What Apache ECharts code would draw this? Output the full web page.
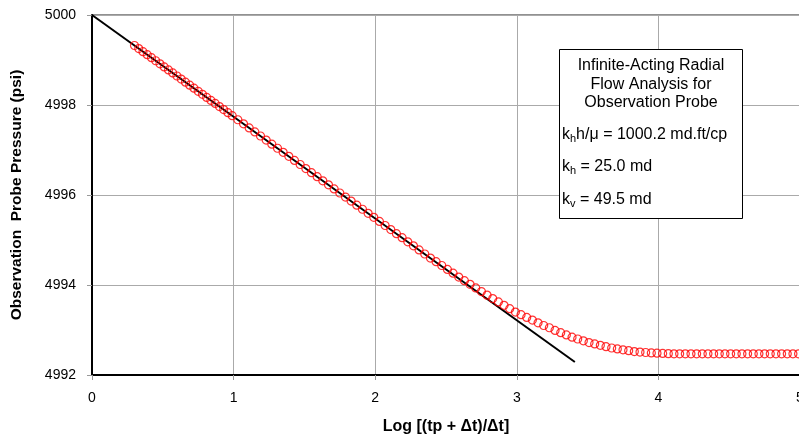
<!DOCTYPE html>
<html><head><meta charset="utf-8">
<script src="https://cdn.jsdelivr.net/npm/echarts@6/dist/echarts.min.js"></script>
<style>html,body{margin:0;padding:0;background:#fff}#c{width:799px;height:439px}</style>
</head><body><div id="c"></div>
<script>
const xTicks = [0, 1, 2, 3, 4, 5];
const yTicks = [4992, 4994, 4996, 4998, 5000];
const probeX = [0.30,0.33,0.36,0.39,0.42,0.45,0.48,0.51,0.54,0.57,0.60,0.63,0.66,0.69,0.72,0.75,0.78,0.81,0.84,0.87,0.90,0.93,0.96,0.99,
1.03,1.07,1.11,1.15,1.19,1.23,1.27,1.31,1.35,1.39,1.43,1.47,1.51,1.55,1.59,1.63,1.67,1.71,1.75,1.79,1.83,1.87,1.91,1.95,1.99,
2.03,2.07,2.11,2.15,2.19,2.23,2.27,2.31,2.35,2.39,2.43,2.47,2.51,2.55,2.59,2.63,2.67,2.71,2.75,2.79,2.83,2.87,2.91,2.95,2.99,
3.03,3.07,3.11,3.15,3.19,3.23,3.27,3.31,3.35,3.39,3.43,3.47,3.51,3.55,3.59,3.63,3.67,3.71,3.75,3.79,3.83,3.87,3.91,3.95,3.99,
4.03,4.07,4.11,4.15,4.19,4.23,4.27,4.31,4.35,4.39,4.43,4.47,4.51,4.55,4.59,4.63,4.67,4.71,4.75,4.79,4.83,4.87,4.91,4.95,4.99];
const probeP = [4999.322,4999.254,4999.186,4999.119,4999.051,4998.983,4998.915,4998.847,4998.780,4998.712,4998.644,4998.576,4998.508,4998.441,4998.373,4998.305,4998.237,4998.169,4998.102,4998.034,4997.966,4997.898,4997.830,4997.763,
4997.672,4997.582,4997.491,4997.401,4997.311,4997.220,4997.130,4997.039,4996.949,4996.859,4996.768,4996.678,4996.587,4996.497,4996.407,4996.316,4996.226,4996.135,4996.045,4995.955,4995.864,4995.774,4995.683,4995.593,4995.503,
4995.412,4995.322,4995.231,4995.141,4995.051,4994.960,4994.870,4994.779,4994.689,4994.599,4994.518,4994.433,4994.347,4994.262,4994.177,4994.096,4994.016,4993.935,4993.855,4993.775,4993.699,4993.624,4993.548,4993.473,4993.398,
4993.34,4993.28,4993.22,4993.16,4993.10,4993.05,4992.99,4992.94,4992.89,4992.84,4992.80,4992.76,4992.72,4992.69,4992.66,4992.63,4992.60,4992.58,4992.56,4992.54,4992.52,4992.51,4992.50,4992.49,4992.485,
4992.48,4992.475,4992.47,4992.47,4992.47,4992.47,4992.47,4992.47,4992.47,4992.47,4992.47,4992.47,4992.47,4992.47,4992.47,4992.47,4992.47,4992.47,4992.47,4992.47,4992.47,4992.47,4992.47,4992.47,4992.47];
const lineX = [0, 3.41];
const lineP = [5000, 4992.29];
const boxTitle = ['Infinite-Acting Radial', 'Flow Analysis for', 'Observation Probe'];

const font = 'Liberation Sans, Arial, sans-serif';
const chart = echarts.init(document.getElementById('c'), null, {renderer: 'canvas'});
const rich = {n: {fontSize: 16, fontFamily: font, lineHeight: 20}, s: {fontSize: 11, fontFamily: font, lineHeight: 20, padding: [7, 0, 0, 0]}};
chart.setOption({
  animation: false,
  backgroundColor: '#fff',
  grid: {left: 92, top: 15, right: -1, bottom: 64, show: true, borderColor: '#222', borderWidth: 1,
         outerBoundsMode: 'none', containLabel: false},
  xAxis: {
    type: 'value', min: xTicks[0], max: xTicks[xTicks.length-1], interval: 1,
    name: 'Log [(tp + Δt)/Δt]', nameLocation: 'middle', nameGap: 44,
    nameTextStyle: {fontFamily: font, fontSize: 16, fontWeight: 'bold', color: '#000'},
    axisLine: {onZero: false, lineStyle: {color: '#000', width: 2}},
    axisTick: {show: true, length: 5, lineStyle: {color: '#999'}},
    axisLabel: {fontFamily: font, fontSize: 14, color: '#000', margin: 16, hideOverlap: false},
    splitLine: {show: true, lineStyle: {color: '#aaa', width: 1}}
  },
  yAxis: {
    type: 'value', min: yTicks[0], max: yTicks[yTicks.length-1], interval: 2,
    name: 'Observation  Probe Pressure (psi)', nameLocation: 'middle', nameGap: 67,
    nameTextStyle: {fontFamily: font, fontSize: 15.5, fontWeight: 'bold', color: '#000'},
    axisLine: {onZero: false, lineStyle: {color: '#000', width: 2}},
    axisTick: {show: true, length: 5, lineStyle: {color: '#999'}},
    axisLabel: {fontFamily: font, fontSize: 14, color: '#000', margin: 16, formatter: v => String(v)},
    splitLine: {show: true, lineStyle: {color: '#aaa', width: 1}}
  },
  series: [
    {type: 'line', data: lineX.map((x, i) => [x, lineP[i]]), symbol: 'none',
     lineStyle: {color: '#000', width: 2}, z: 2},
    {type: 'scatter', data: probeX.map((x, i) => [x, probeP[i]]), symbol: 'circle', symbolSize: 8,
     itemStyle: {color: 'rgba(0,0,0,0)', borderColor: '#ff0000', borderWidth: 1.2}, z: 3}
  ],
  graphic: [
    {type: 'rect', left: 559, top: 49, z: 10, shape: {width: 183, height: 169},
     style: {fill: '#fff', stroke: '#000', lineWidth: 1}},
    {type: 'text', x: 651, y: 66, z: 11, style: {text: boxTitle[0], font: '16px ' + font, fill: '#000', align: 'center', verticalAlign: 'middle'}},
    {type: 'text', x: 651, y: 85, z: 11, style: {text: boxTitle[1], font: '16px ' + font, fill: '#000', align: 'center', verticalAlign: 'middle'}},
    {type: 'text', x: 651, y: 103, z: 11, style: {text: boxTitle[2], font: '16px ' + font, fill: '#000', align: 'center', verticalAlign: 'middle'}},
    {type: 'text', x: 562, y: 135, z: 11, style: {text: '{n|k}{s|h}{n|h/μ = 1000.2 md.ft/cp}', verticalAlign: 'middle', fill: '#000', rich: rich}},
    {type: 'text', x: 562, y: 167, z: 11, style: {text: '{n|k}{s|h}{n| = 25.0 md}', verticalAlign: 'middle', fill: '#000', rich: rich}},
    {type: 'text', x: 562, y: 200, z: 11, style: {text: '{n|k}{s|v}{n| = 49.5 md}', verticalAlign: 'middle', fill: '#000', rich: rich}}
  ]
});
</script></body></html>
